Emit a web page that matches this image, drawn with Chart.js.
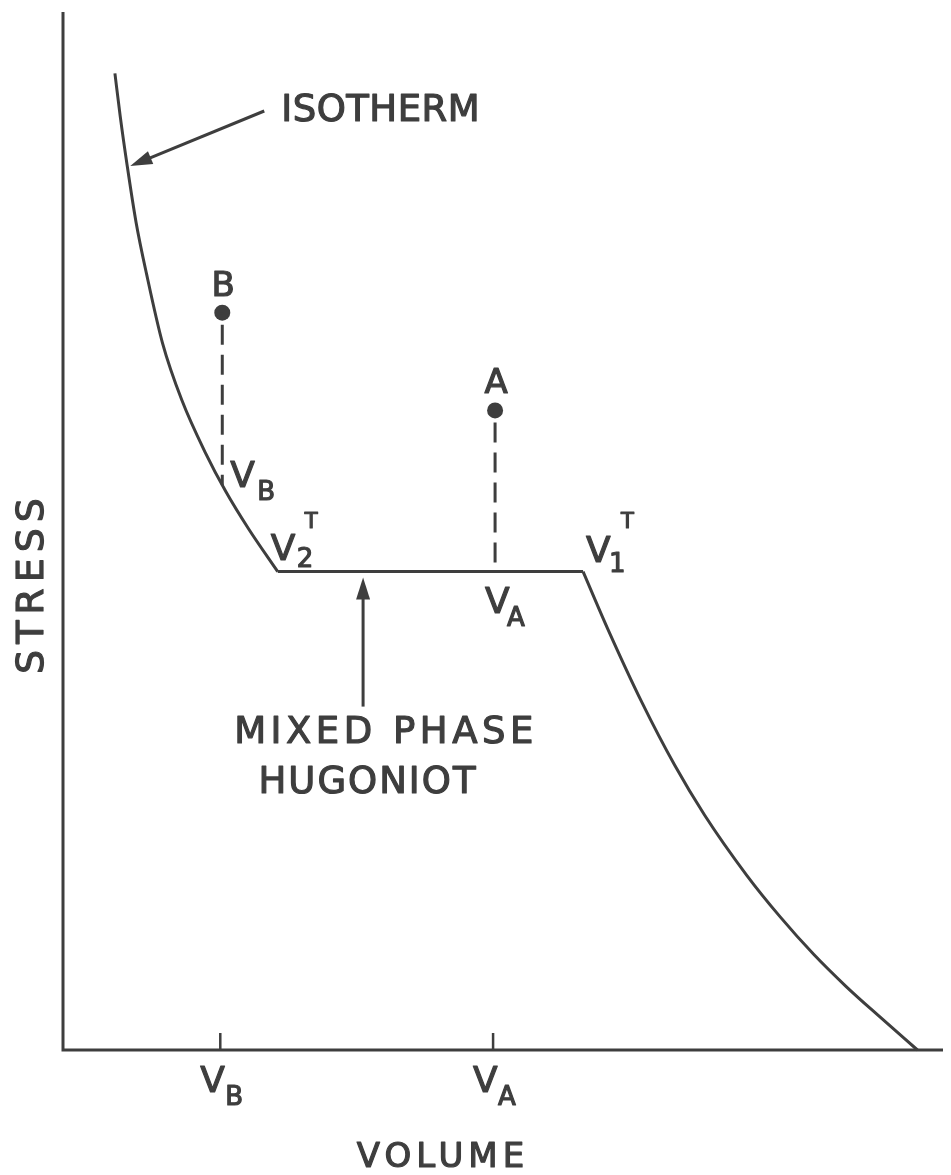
<!DOCTYPE html>
<html>
<head>
<meta charset="utf-8">
<script src="https://cdn.jsdelivr.net/npm/chart.js@4/dist/chart.umd.min.js"></script>
<style>
  html, body { margin: 0; background: #fff; }
  #wrap { width: 951px; height: 1175px; }
</style>
</head>
<body>
<div id="wrap"><canvas id="chart"></canvas></div>
<script>
// volume / stress in arbitrary units (0-100 on both axes)
const isothermV = [5.9, 6.5, 7.3, 8.3, 9.5, 11.3, 13.5, 16.2, 18.5, 21.1, 24.4];
const isothermS = [93.9, 89.8, 85.0, 79.6, 74.6, 68.0, 62.5, 57.4, 53.7, 50.1, 46.0];

const hugoniotV = [59.1, 61.9, 65.8, 69.5, 72.9, 77.7, 81.5, 85.3, 89.0, 92.8, 97.1];
const hugoniotS = [46.0, 40.5, 33.4, 27.4, 22.6, 16.8, 12.8, 9.2, 6.1, 3.2, 0];

const plateauS = 46.0;

// states A and B, and the volumes they drop to
const stateNames = ['B', 'A'];
const stateV = [18.1, 49.1];
const stateS = [70.9, 61.5];
const dropToS = [54.3, 46.0];

const ink = '#3e3e3e';
const font = '"DejaVu Sans", sans-serif';

const toPts = (xs, ys) => xs.map((x, i) => ({ x: x, y: ys[i] }));

// lettering is a bit heavier than the regular face, so fill + thin stroke
function text(ctx, s, x, y, size, spacing, align) {
    ctx.font = size + 'px ' + font;
    ctx.letterSpacing = (spacing || 0) + 'px';
    ctx.textAlign = align || 'left';
    ctx.textBaseline = 'alphabetic';
    ctx.lineWidth = 1.2;
    ctx.lineJoin = 'round';
    ctx.fillText(s, x, y);
    ctx.strokeText(s, x, y);
}

function arrow(ctx, x0, y0, x1, y1) {
    const a = Math.atan2(y1 - y0, x1 - x0);
    const len = 22, half = 7;
    ctx.lineWidth = 3;
    ctx.beginPath();
    ctx.moveTo(x0, y0);
    ctx.lineTo(x1 - Math.cos(a) * len * 0.8, y1 - Math.sin(a) * len * 0.8);
    ctx.stroke();
    ctx.beginPath();
    ctx.moveTo(x1, y1);
    ctx.lineTo(x1 - Math.cos(a) * len + Math.sin(a) * half, y1 - Math.sin(a) * len - Math.cos(a) * half);
    ctx.lineTo(x1 - Math.cos(a) * len - Math.sin(a) * half, y1 - Math.sin(a) * len + Math.cos(a) * half);
    ctx.closePath();
    ctx.fill();
}

// axes, ticks, arrows and lettering
const annotations = {
    id: 'annotations',
    afterDatasetsDraw(chart) {
        const ctx = chart.ctx;
        const xs = chart.scales.x, ys = chart.scales.y;
        const area = chart.chartArea;
        ctx.save();
        ctx.strokeStyle = ink;
        ctx.fillStyle = ink;
        ctx.lineWidth = 3;
        ctx.lineCap = 'butt';

        // axis lines
        ctx.beginPath();
        ctx.moveTo(area.left, area.top + 2);
        ctx.lineTo(area.left, area.bottom);
        ctx.lineTo(area.right, area.bottom);
        ctx.stroke();

        // volume ticks
        ctx.lineWidth = 2.5;
        stateV.forEach(v => {
            const px = xs.getPixelForValue(v) - 2;
            ctx.beginPath();
            ctx.moveTo(px, area.bottom - 17);
            ctx.lineTo(px, area.bottom);
            ctx.stroke();
        });

        // tick labels V_B, V_A
        stateV.forEach((v, i) => {
            const px = xs.getPixelForValue(v) - 2;
            text(ctx, 'V', px - 20, area.bottom + 42, 36);
            text(ctx, stateNames[i], px + 5, area.bottom + 55, 26);
        });

        // point letters
        stateV.forEach((v, i) => {
            const px = xs.getPixelForValue(v) + 1, py = ys.getPixelForValue(stateS[i]);
            text(ctx, stateNames[i], px, py - 17, 34, 0, 'center');
        });

        // V_B where the drop meets the isotherm
        let px = xs.getPixelForValue(stateV[0]), py = ys.getPixelForValue(dropToS[0]);
        text(ctx, 'V', px + 8, py + 2, 36);
        text(ctx, 'B', px + 35, py + 15, 26);

        // V_A on the mixed phase line
        px = xs.getPixelForValue(stateV[1]);
        py = ys.getPixelForValue(plateauS);
        text(ctx, 'V', px - 10, py + 41, 36);
        text(ctx, 'A', px + 12, py + 54, 26);

        // transition volumes
        px = xs.getPixelForValue(isothermV[isothermV.length - 1]);
        text(ctx, 'V', px - 7, py - 12, 36);
        text(ctx, '2', px + 19, py - 5, 26);
        text(ctx, 'T', px + 27, py - 44, 21);

        px = xs.getPixelForValue(hugoniotV[0]);
        text(ctx, 'V', px + 3, py - 10, 36);
        text(ctx, '1', px + 26, py, 26);
        text(ctx, 'T', px + 38, py - 44, 21);

        // ISOTHERM callout
        const tipX = xs.getPixelForValue(isothermV[2]) + 3, tipY = ys.getPixelForValue(isothermS[2]);
        arrow(ctx, tipX + 134, tipY - 55, tipX, tipY);
        text(ctx, 'ISOTHERM', tipX + 151, tipY - 45, 37, 0.5);

        // mixed phase callout
        const mx = xs.getPixelForValue(34.1), my = ys.getPixelForValue(plateauS);
        arrow(ctx, mx, my + 135, mx, my + 6);
        text(ctx, 'MIXED PHASE', 386, my + 171, 37, 4.5, 'center');
        text(ctx, 'HUGONIOT', 368, my + 221, 37, 2, 'center');

        // axis titles
        text(ctx, 'VOLUME', 443, area.bottom + 117, 34, 5, 'center');
        ctx.save();
        ctx.translate(43, 583);
        ctx.rotate(-Math.PI / 2);
        text(ctx, 'STRESS', 0, 0, 38, 6, 'center');
        ctx.restore();

        ctx.restore();
    }
};

const curve = {
    showLine: true,
    borderColor: ink,
    borderWidth: 3,
    pointRadius: 0,
    cubicInterpolationMode: 'monotone',
    clip: false
};

const drop = {
    showLine: true,
    borderColor: ink,
    borderWidth: 3,
    borderDash: [20, 10],
    borderDashOffset: -12,
    pointRadius: 0,
    clip: false
};

new Chart(document.getElementById('chart'), {
    type: 'scatter',
    data: {
        datasets: [
            Object.assign({ label: 'Isotherm', data: toPts(isothermV, isothermS) }, curve),
            Object.assign({ label: 'Mixed phase Hugoniot', data: [
                { x: isothermV[isothermV.length - 1], y: plateauS },
                { x: hugoniotV[0], y: plateauS }
            ] }, curve),
            Object.assign({ label: 'Hugoniot', data: toPts(hugoniotV, hugoniotS) }, curve),
            Object.assign({ label: 'B drop', data: [
                { x: stateV[0], y: stateS[0] }, { x: stateV[0], y: dropToS[0] }
            ] }, drop),
            Object.assign({ label: 'A drop', data: [
                { x: stateV[1], y: stateS[1] }, { x: stateV[1], y: dropToS[1] }
            ] }, drop),
            {
                label: 'States',
                data: toPts(stateV, stateS),
                showLine: false, pointRadius: 8, pointBackgroundColor: ink,
                pointBorderWidth: 0, clip: false
            }
        ]
    },
    options: {
        responsive: true,
        maintainAspectRatio: false,
        animation: false,
        layout: { padding: { left: 63, top: 10, right: 0, bottom: 125 } },
        plugins: { legend: { display: false }, tooltip: { enabled: false } },
        scales: {
            x: { type: 'linear', min: 0, max: 100, display: false },
            y: { type: 'linear', min: 0, max: 100, display: false }
        }
    },
    plugins: [annotations]
});
</script>
</body>
</html>
